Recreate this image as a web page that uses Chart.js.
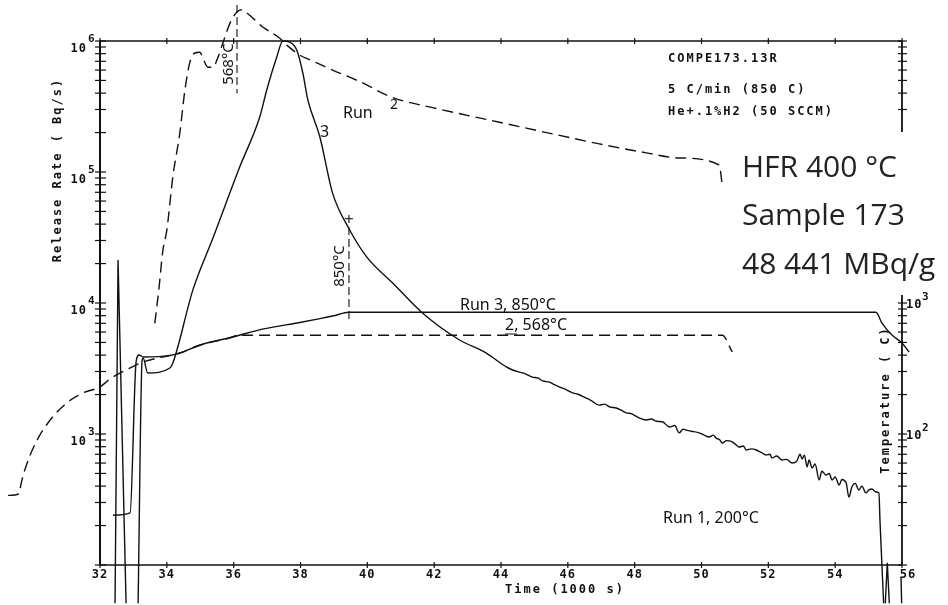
<!DOCTYPE html>
<html>
<head>
<meta charset="utf-8">
<script src="https://cdn.jsdelivr.net/npm/chart.js@4.4.1/dist/chart.umd.min.js"></script>
<style>
  html, body { margin: 0; padding: 0; background: #fff; }
  canvas { display: block; }
</style>
</head>
<body>
<canvas id="chart" width="948" height="605"></canvas>
<script>
// Time in 1000 s, release rate in Bq/s, temperature in C

// Run 2 release rate (dashed)
const run2RateTime = [33.64, 33.76, 33.88, 34.00, 34.18, 34.39, 34.54, 34.69, 34.84, 34.99, 35.08, 35.23, 35.38, 35.53, 35.68, 35.89, 36.09, 36.24, 36.39, 36.87, 37.38, 37.59, 37.98, 38.28, 38.96, 39.77, 40.76, 41.95, 43.95, 45.36, 46.94, 48.35, 49.33, 50.53, 50.62];
const run2Rate = [7.0e3, 1.26e4, 2.5e4, 3.6e4, 9.2e4, 2.0e5, 4.2e5, 6.9e5, 8.1e5, 8.2e5, 7.4e5, 6.3e5, 6.3e5, 7.5e5, 9.7e5, 1.37e6, 1.66e6, 1.73e6, 1.64e6, 1.28e6, 1.05e6, 9.3e5, 7.8e5, 7.2e5, 6.0e5, 4.9e5, 3.7e5, 3.1e5, 2.4e5, 2.0e5, 1.64e5, 1.40e5, 1.28e5, 1.13e5, 8.0e4];

// Run 3 release rate (solid)
const run3RateTime = [33.14, 33.26, 33.29, 33.43, 34.09, 34.18, 34.78, 35.38, 36.18, 36.78, 36.99, 37.29, 37.47, 37.68, 37.89, 38.07, 38.22, 38.58, 38.96, 39.44, 39.98, 40.76, 41.65, 42.76, 43.56,
  44.16, 44.35, 44.55, 44.70, 44.94, 45.10, 45.25, 45.45, 45.60, 45.80, 45.96, 46.14, 46.30, 46.55, 46.70, 46.94, 47.10, 47.25, 47.45, 47.60, 47.75, 47.90, 48.10, 48.35, 48.50, 48.65, 48.83,
  49.04, 49.20, 49.33, 49.45, 49.54, 49.70, 49.93, 50.05, 50.23, 50.35, 50.44, 50.55, 50.62, 50.75, 50.92, 51.05, 51.13, 51.25, 51.34, 51.50, 51.64, 51.80, 51.93, 52.05, 52.11, 52.25,
  52.41, 52.55, 52.71, 52.85, 52.95, 53.01, 53.08, 53.16, 53.22, 53.31, 53.40, 53.52, 53.60, 53.73, 53.82, 53.91, 54.00, 54.12, 54.20, 54.33, 54.41, 54.50, 54.60, 54.71, 54.80, 54.92,
  55.01, 55.10, 55.22, 55.31, 55.34, 55.45];
const run3Rate = [51, 3670, 3800, 2920, 3190, 3480, 1.26e4, 3.13e4, 1.09e5, 2.63e5, 4.23e5, 7.55e5, 1.0e6, 9.8e5, 8.5e5, 5.7e5, 3.55e5, 1.85e5, 6.9e4, 3.74e4, 2.25e4, 1.42e4, 8.4e3, 5.22e3, 4.15e3,
  3250, 3080, 2970, 2900, 2720, 2680, 2540, 2490, 2380, 2260, 2170, 2060, 2010, 1880, 1800, 1660, 1690, 1610, 1580, 1520, 1450, 1430, 1340, 1280, 1300, 1250, 1240,
  1130, 1160, 1020, 1090, 1070, 1050, 1020, 990, 948, 980, 931, 900, 853, 890, 869, 820, 796, 810, 755, 770, 755, 720, 692, 700, 656, 680,
  634, 640, 601, 620, 700, 645, 690, 560, 634, 550, 590, 446, 520, 486, 500, 446, 470, 408, 450, 423, 330, 394, 420, 374, 400, 355,
  374, 380, 361, 355, 221, 51];

// Run 3 temperature (solid), 850 C plateau
const run3TempTime = [32.39, 32.90, 33.08, 33.17, 33.30, 34.15, 34.39, 35.00, 35.97, 36.90, 37.98, 38.58, 39.00, 39.45, 55.22, 55.40, 55.70, 56.00, 56.21];
const run3Temp = [24, 25, 355, 401, 387, 400, 415, 478, 550, 635, 710, 760, 800, 850, 850, 703, 570, 495, 423];

// Run 2 temperature (dashed), 568 C plateau
const run2TempTime = [29.25, 29.58, 29.64, 29.82, 30.12, 30.51, 31.01, 31.49, 32.00, 32.30, 32.80, 33.29, 34.39, 35.00, 35.97, 36.10, 50.62, 50.92];
const run2Temp = [34, 35, 42, 60, 90, 128, 173, 206, 229, 263, 310, 355, 415, 478, 550, 568, 568, 423];

// Run 1 traces near the start and the end
const run1StartTime = [32.45, 32.54, 32.78];
const run1StartRate = [51, 2.13e4, 51];
const run1EndTime = [55.50, 55.56, 55.62];
const run1EndRate = [51, 104, 51];
const run1TailTime = [55.97, 55.99];
const run1TailRate = [81, 51];

const timeTicks = [32, 34, 36, 38, 40, 42, 44, 46, 48, 50, 52, 54, 56];
const rateDecades = [2, 3, 4, 5, 6];
const tempDecades = [1, 2, 3, 4, 5];

const ink = '#111';
const plotFont = '"DejaVu Sans Mono", monospace';
const handFont = '"Noto Sans", sans-serif';

const pts = (xs, ys) => xs.map((x, i) => ({ x: x, y: ys[i] }));

function series(xs, ys, axis, dashed, smooth) {
    return {
        data: pts(xs, ys),
        yAxisID: axis,
        borderColor: ink,
        borderWidth: 1.4,
        borderDash: dashed ? [11, 6] : [],
        pointRadius: 0,
        fill: false,
        clip: false,
        tension: 0,
        cubicInterpolationMode: smooth ? 'monotone' : 'default'
    };
}

function rotatedText(ctx, text, cx, cy) {
    ctx.save();
    ctx.translate(cx, cy);
    ctx.rotate(-Math.PI / 2);
    ctx.textAlign = 'center';
    ctx.textBaseline = 'middle';
    ctx.fillText(text, 0, 0);
    ctx.restore();
}

const frame = {
    id: 'frame',
    afterDatasetsDraw(chart) {
        const { ctx, chartArea: a, scales } = chart;
        const x = scales.x, y = scales.y, temp = scales.temp;
        const seg = (x1, y1, x2, y2) => { ctx.beginPath(); ctx.moveTo(x1, y1); ctx.lineTo(x2, y2); ctx.stroke(); };

        ctx.save();
        ctx.strokeStyle = ink;
        ctx.fillStyle = ink;

        // frame lines
        ctx.lineWidth = 2;
        seg(a.left, a.top, a.left, a.bottom);
        ctx.lineWidth = 1.4;
        seg(a.left, a.bottom, a.right, a.bottom);
        seg(a.left, a.top, a.right, a.top);
        ctx.lineWidth = 1.8;
        seg(a.right, a.top, a.right, 132);
        seg(a.right, 295, a.right, a.bottom);

        // time ticks top and bottom
        ctx.lineWidth = 1.2;
        ctx.font = 'bold 12px ' + plotFont;
        ctx.letterSpacing = '1px';
        ctx.textAlign = 'center';
        ctx.textBaseline = 'middle';
        timeTicks.forEach(t => {
            const px = x.getPixelForValue(t);
            seg(px, a.bottom - 3, px, a.bottom + 3);
            seg(px, a.top - 3, px, a.top + 3);
            ctx.fillText(String(t), t === 56 ? px + 6 : px, a.bottom + 10);
        });

        // release rate axis (left)
        rateDecades.forEach(e => {
            for (let m = 1; m <= 9; m++) {
                const v = m * Math.pow(10, e);
                if (v > 1e6) continue;
                const py = y.getPixelForValue(v);
                seg(a.left - 5, py, a.left + 6, py);
            }
            if (e >= 3) {
                const py = y.getPixelForValue(Math.pow(10, e));
                ctx.textBaseline = 'alphabetic';
                ctx.font = 'bold 12px ' + plotFont;
                ctx.textAlign = 'right';
                ctx.fillText('10', 87, py + 11);
                ctx.font = 'bold 11px ' + plotFont;
                ctx.textAlign = 'left';
                ctx.fillText(String(e), 88, py + 1);
            }
        });

        // temperature axis (right), interrupted behind the sample label
        tempDecades.forEach(e => {
            for (let m = 1; m <= 9; m++) {
                const v = m * Math.pow(10, e);
                if (v > 1e5) continue;
                const py = temp.getPixelForValue(v);
                if (py > 132 && py < 295) continue;
                seg(a.right - 4, py, a.right + 5, py);
            }
            if (e === 2 || e === 3) {
                const py = temp.getPixelForValue(Math.pow(10, e));
                ctx.textBaseline = 'alphabetic';
                ctx.font = 'bold 12px ' + plotFont;
                ctx.textAlign = 'left';
                ctx.fillText('10', a.right + 4, py + 5);
                ctx.font = 'bold 11px ' + plotFont;
                ctx.fillText(String(e), a.right + 20, py - 3);
            }
        });

        // axis titles
        ctx.font = 'bold 12px ' + plotFont;
        ctx.letterSpacing = '2px';
        rotatedText(ctx, 'Release Rate ( Bq/s)', 58, 170);
        rotatedText(ctx, 'Temperature ( C)', 886, 400);
        ctx.textAlign = 'center';
        ctx.textBaseline = 'middle';
        ctx.fillText('Time (1000 s)', 565, 590);

        // run notes
        ctx.textAlign = 'left';
        ctx.textBaseline = 'alphabetic';
        ctx.fillText('COMPE173.13R', 668, 62);
        ctx.fillText('5 C/min (850 C)', 668, 93);
        ctx.fillText('He+.1%H2 (50 SCCM)', 668, 115);
        ctx.letterSpacing = '0px';

        // temperature markers
        ctx.lineWidth = 1.1;
        ctx.setLineDash([8, 4]);
        let px = x.getPixelForValue(36.1);
        seg(px, y.getPixelForValue(1.88e6), px, y.getPixelForValue(4.0e5));
        px = x.getPixelForValue(39.45);
        seg(px, y.getPixelForValue(4.7e4), px, y.getPixelForValue(7.2e3));
        ctx.setLineDash([]);
        seg(px - 4, y.getPixelForValue(4.4e4), px + 4, y.getPixelForValue(4.4e4));

        ctx.font = '15px ' + handFont;
        rotatedText(ctx, '568°C', x.getPixelForValue(36.1) - 8, 64);
        rotatedText(ctx, '850°C', x.getPixelForValue(39.45) - 9, 266);

        // hand labels
        ctx.textAlign = 'left';
        ctx.textBaseline = 'alphabetic';
        ctx.font = '16px ' + handFont;
        ctx.fillText('Run', 343, 118);
        ctx.font = '14px ' + handFont;
        ctx.fillText('2', 390, 109);
        ctx.font = '16px ' + handFont;
        ctx.fillText('3', 320, 137);
        ctx.fillText('Run 3, 850°C', 460, 310);
        ctx.fillText('2, 568°C', 505, 330);
        ctx.lineWidth = 1;
        seg(505, 334, 517, 334);
        ctx.fillText('Run 1, 200°C', 663, 523);

        // sample description
        ctx.fillStyle = '#222';
        ctx.font = '30px "Open Sans", "Noto Sans", sans-serif';
        ctx.fillText('HFR 400 °C', 742, 177);
        ctx.fillText('Sample 173', 742, 225);
        ctx.fillText('48 441 MBq/g', 742, 274);
        ctx.restore();
    }
};

new Chart(document.getElementById('chart'), {
    type: 'line',
    data: {
        datasets: [
            series(run2TempTime, run2Temp, 'temp', true, true),
            series(run3TempTime, run3Temp, 'temp', false, true),
            series(run2RateTime, run2Rate, 'y', true, true),
            series(run3RateTime, run3Rate, 'y', false, true),
            series(run1StartTime, run1StartRate, 'y', false, false),
            series(run1EndTime, run1EndRate, 'y', false, false),
            series(run1TailTime, run1TailRate, 'y', false, false)
        ]
    },
    options: {
        responsive: false,
        animation: false,
        events: [],
        layout: { padding: { left: 100, right: 46, top: 41, bottom: 40 } },
        plugins: { legend: { display: false }, tooltip: { enabled: false } },
        scales: {
            x: {
                type: 'linear',
                display: false,
                bounds: 'data',
                afterDataLimits: (s) => { s.min = 32; s.max = 56; }
            },
            y: { type: 'logarithmic', display: false, min: 100, max: 1e6 },
            temp: { type: 'logarithmic', axis: 'y', position: 'right', display: false, min: 10, max: 1e5 }
        }
    },
    plugins: [frame]
});
</script>
</body>
</html>
